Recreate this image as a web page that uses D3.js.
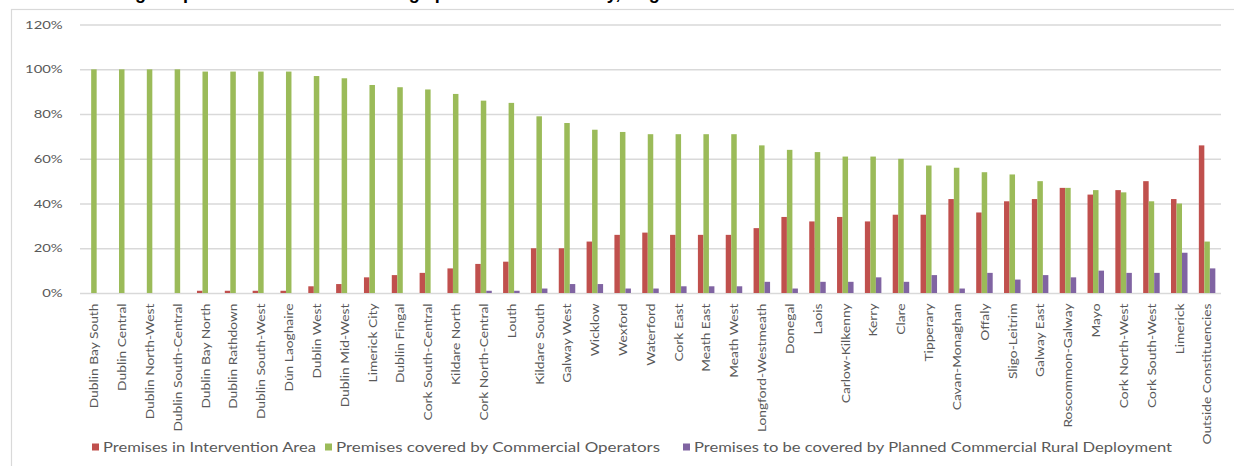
<!DOCTYPE html>
<html>
<head>
<meta charset="utf-8">
<script src="https://cdn.jsdelivr.net/npm/d3@7"></script>
<style>
  html, body { margin: 0; padding: 0; background: #fff; }
  svg { display: block; }
</style>
</head>
<body>
<svg id="chart" width="1234" height="466"></svg>
<script>
// Constituencies, ordered by commercial coverage
const categories = [
  "Dublin Bay South", "Dublin Central", "Dublin North-West", "Dublin South-Central",
  "Dublin Bay North", "Dublin Rathdown", "Dublin South-West", "Dún Laoghaire",
  "Dublin West", "Dublin Mid-West", "Limerick City", "Dublin Fingal",
  "Cork South-Central", "Kildare North", "Cork North-Central", "Louth",
  "Kildare South", "Galway West", "Wicklow", "Wexford", "Waterford",
  "Cork East", "Meath East", "Meath West", "Longford-Westmeath", "Donegal",
  "Laois", "Carlow-Kilkenny", "Kerry", "Clare", "Tipperary", "Cavan-Monaghan",
  "Offaly", "Sligo-Leitrim", "Galway East", "Roscommon-Galway", "Mayo",
  "Cork North-West", "Cork South-West", "Limerick", "Outside Constituencies"
];

// Share of premises (%) per constituency
const intervention = [0,0,0,0,1,1,1,1,3,4,7,8,9,11,13,14,20,20,23,26,27,26,26,26,29,34,32,34,32,35,35,42,36,41,42,47,44,46,50,42,66];
const commercial   = [100,100,100,100,99,99,99,99,97,96,93,92,91,89,86,85,79,76,73,72,71,71,71,71,66,64,63,61,61,60,57,56,54,53,50,47,46,45,41,40,23];
const rural        = [0,0,0,0,0,0,0,0,0,0,0,0,0,0,1,1,2,4,4,2,2,3,3,3,5,2,5,5,7,5,8,2,9,6,8,7,10,9,9,18,11];

const seriesNames = [
  "Premises in Intervention Area",
  "Premises covered by Commercial Operators",
  "Premises to be covered by Planned Commercial Rural Deployment"
];
const seriesColors = ["#C0504D", "#9BBB59", "#8064A2"];
const yTicks = [0, 20, 40, 60, 80, 100, 120];

const titleText = "Percentage of premises with NBP coverage per Dáil constituency, Aug 2017";

const svg = d3.select("#chart");
const font = "Lato, 'Open Sans', sans-serif";
const textGrey = "#595959";
const gridGrey = "#d9d9d9";

// Chart frame (runs off the right and bottom edges)
svg.append("rect")
  .attr("x", 11.5).attr("y", 9.5)
  .attr("width", 1240).attr("height", 480)
  .attr("fill", "none").attr("stroke", gridGrey).attr("stroke-width", 1.2);

// Title, sitting above the frame
svg.append("text")
  .attr("x", 59).attr("y", -0.6)
  .attr("font-family", "'Liberation Sans', Arial, sans-serif")
  .attr("font-weight", "bold").attr("font-size", 18)
  .attr("fill", "#000")
  .text(titleText);

const plot = { left: 80, right: 1221, top: 24.6, bottom: 293 };

const y = d3.scaleLinear().domain([0, 120]).range([plot.bottom, plot.top]);
const x0 = d3.scaleBand().domain(categories)
  .range([plot.left, plot.right]).paddingInner(0.407).paddingOuter(0.2035);
const x1 = d3.scaleBand().domain(d3.range(3)).range([0, x0.bandwidth()]);

// Gridlines
const yAxis = d3.axisLeft(y).tickValues(yTicks)
  .tickSize(-(plot.right - plot.left)).tickPadding(0).tickFormat(d => d + "%");
const gy = svg.append("g").attr("transform", `translate(${plot.left},0)`).call(yAxis);
gy.select(".domain").remove();
gy.selectAll(".tick line").attr("stroke", gridGrey).attr("stroke-width", 1.5);
gy.selectAll(".tick text").remove();

// Measuring helper for stretched labels
function measure(str, size) {
  const t = svg.append("text").attr("font-family", font).attr("font-size", size).text(str);
  const w = t.node().getComputedTextLength();
  t.remove();
  return w;
}

// Y tick labels
const yFont = 11.5;
const kY = 37.7 / measure("100%", yFont);
svg.append("g").selectAll("text").data(yTicks).join("text")
  .attr("transform", d => `translate(62.7,${y(d)}) scale(${kY},1)`)
  .attr("text-anchor", "end").attr("dy", "0.36em")
  .attr("font-family", font).attr("font-size", yFont).attr("fill", textGrey)
  .text(d => d + "%");

// Bars
const rows = categories.map((c, i) => ({ c, v: [intervention[i], commercial[i], rural[i]] }));
const groups = svg.append("g").selectAll("g").data(rows).join("g")
  .attr("transform", d => `translate(${x0(d.c)},0)`);
groups.selectAll("rect").data(d => d.v.map((v, k) => ({ v, k }))).join("rect")
  .attr("x", d => x1(d.k))
  .attr("width", x1.bandwidth())
  .attr("y", d => y(d.v))
  .attr("height", d => y(0) - y(d.v))
  .attr("fill", d => seriesColors[d.k]);

// Category labels, rotated
const xFont = 12;
const kX = 105 / measure("Dublin Bay South", xFont);
svg.append("g").selectAll("text").data(categories).join("text")
  .attr("transform", d => `translate(${x0(d) + x0.bandwidth() / 2},303.5) rotate(-90) scale(${kX},1)`)
  .attr("text-anchor", "end").attr("dy", "0.36em")
  .attr("font-family", font).attr("font-size", xFont).attr("fill", textGrey)
  .text(d => d);

// Legend
const legendX = [92, 325, 683];
const legendW = [213, 324, 478];
const legendY = 447;
const lg = svg.append("g").selectAll("g").data(seriesNames).join("g")
  .attr("transform", (d, i) => `translate(${legendX[i]},${legendY})`);
lg.append("rect").attr("x", 0).attr("y", -3.5).attr("width", 7).attr("height", 7)
  .attr("fill", (d, i) => seriesColors[i]);
lg.append("text").attr("x", 11).attr("dy", "0.36em")
  .attr("font-family", font).attr("font-size", 13).attr("fill", textGrey)
  .attr("textLength", (d, i) => legendW[i]).attr("lengthAdjust", "spacingAndGlyphs")
  .text(d => d);
</script>
</body>
</html>
